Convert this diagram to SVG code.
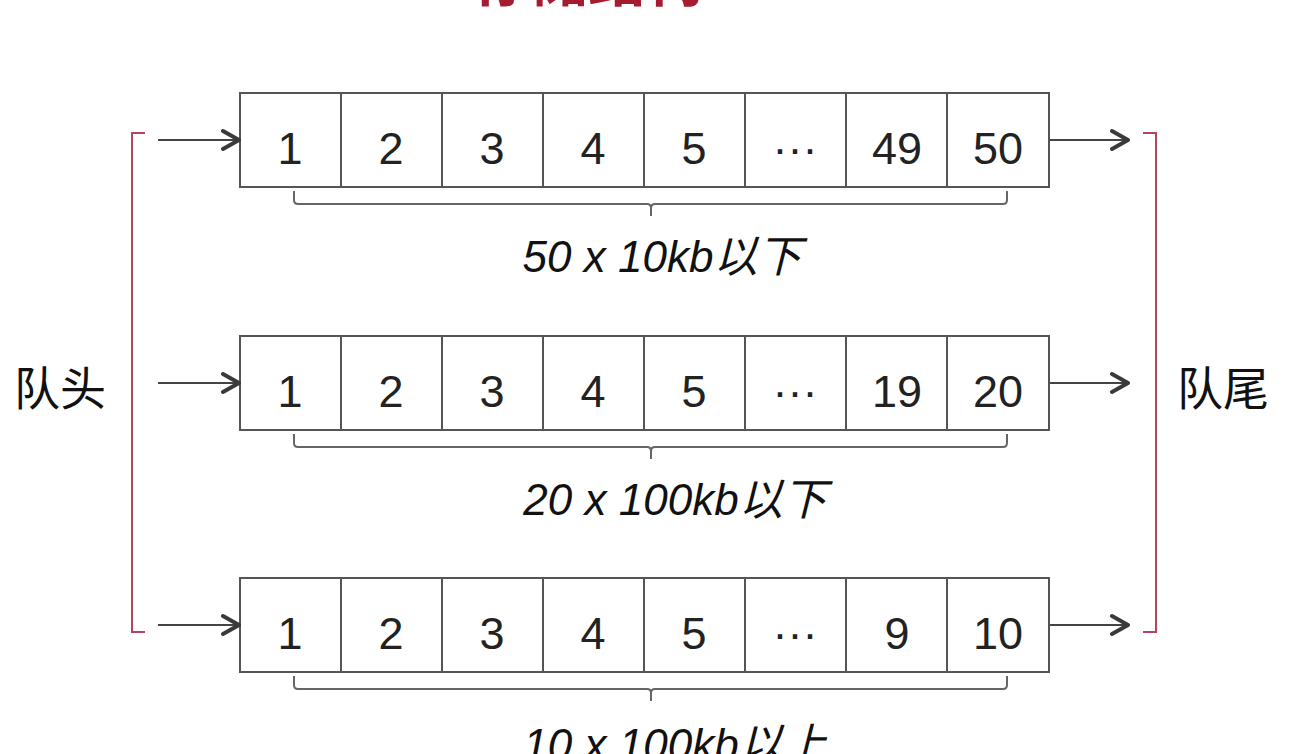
<svg xmlns="http://www.w3.org/2000/svg" width="1300" height="754" viewBox="0 0 1300 754">
<defs>
<marker id="arrB" viewBox="0 0 24 24" refX="22" refY="12" markerWidth="24" markerHeight="24" markerUnits="userSpaceOnUse" orient="auto">
<path d="M6,3 L22,12 L6,21" fill="none" stroke="#3a3a3a" stroke-width="4" stroke-linecap="round" stroke-linejoin="round"/>
</marker>
</defs>
<style>
.cell{fill:#fff;stroke:#555;stroke-width:2}
.num{font-family:"Liberation Sans",Arial,sans-serif;font-size:45px;fill:#222;text-anchor:middle}
.lbl{font-family:"Liberation Sans","Noto Sans CJK SC",sans-serif;font-size:44px;font-style:italic;fill:#111;text-anchor:middle}
.side{font-family:"Noto Sans CJK SC",sans-serif;font-size:46px;fill:#111}
.brace{fill:none;stroke:#666;stroke-width:2}
.conn{fill:none;stroke:#444;stroke-width:2;marker-end:url(#arrB)}
.red{fill:none;stroke:#b5455e;stroke-width:2}
.title{font-family:"Noto Sans CJK SC",sans-serif;font-weight:bold;font-size:58px;fill:#a51c30}
</style>
<rect width="1300" height="754" fill="#fff"/>
<text class="title" x="472" y="1">存储结构</text>

<g id="row1">
<rect class="cell" x="240" y="93" width="101" height="94"/>
<rect class="cell" x="341" y="93" width="101" height="94"/>
<rect class="cell" x="442" y="93" width="101" height="94"/>
<rect class="cell" x="543" y="93" width="101" height="94"/>
<rect class="cell" x="644" y="93" width="101" height="94"/>
<rect class="cell" x="745" y="93" width="101" height="94"/>
<rect class="cell" x="846" y="93" width="101" height="94"/>
<rect class="cell" x="947" y="93" width="102" height="94"/>
<text class="num" x="290" y="164">1</text>
<text class="num" x="391" y="164">2</text>
<text class="num" x="492" y="164">3</text>
<text class="num" x="593" y="164">4</text>
<text class="num" x="694" y="164">5</text>
<text class="num" x="795" y="164">···</text>
<text class="num" x="897" y="164">49</text>
<text class="num" x="998" y="164">50</text>
<path class="brace" d="M294,191 V200 Q294,204 298,204 H647 Q651,204 651,208 V216 M651,208 Q651,204 655,204 H1003 Q1007,204 1007,200 V191"/>
<text class="lbl" x="662" y="272">50 x 10kb以下</text>
</g>

<g id="row2">
<rect class="cell" x="240" y="336" width="101" height="94"/>
<rect class="cell" x="341" y="336" width="101" height="94"/>
<rect class="cell" x="442" y="336" width="101" height="94"/>
<rect class="cell" x="543" y="336" width="101" height="94"/>
<rect class="cell" x="644" y="336" width="101" height="94"/>
<rect class="cell" x="745" y="336" width="101" height="94"/>
<rect class="cell" x="846" y="336" width="101" height="94"/>
<rect class="cell" x="947" y="336" width="102" height="94"/>
<text class="num" x="290" y="407">1</text>
<text class="num" x="391" y="407">2</text>
<text class="num" x="492" y="407">3</text>
<text class="num" x="593" y="407">4</text>
<text class="num" x="694" y="407">5</text>
<text class="num" x="795" y="407">···</text>
<text class="num" x="897" y="407">19</text>
<text class="num" x="998" y="407">20</text>
<path class="brace" d="M294,434 V443 Q294,447 298,447 H647 Q651,447 651,451 V459 M651,451 Q651,447 655,447 H1003 Q1007,447 1007,443 V434"/>
<text class="lbl" x="675" y="515">20 x 100kb以下</text>
</g>

<g id="row3">
<rect class="cell" x="240" y="578" width="101" height="94"/>
<rect class="cell" x="341" y="578" width="101" height="94"/>
<rect class="cell" x="442" y="578" width="101" height="94"/>
<rect class="cell" x="543" y="578" width="101" height="94"/>
<rect class="cell" x="644" y="578" width="101" height="94"/>
<rect class="cell" x="745" y="578" width="101" height="94"/>
<rect class="cell" x="846" y="578" width="101" height="94"/>
<rect class="cell" x="947" y="578" width="102" height="94"/>
<text class="num" x="290" y="649">1</text>
<text class="num" x="391" y="649">2</text>
<text class="num" x="492" y="649">3</text>
<text class="num" x="593" y="649">4</text>
<text class="num" x="694" y="649">5</text>
<text class="num" x="795" y="649">···</text>
<text class="num" x="897" y="649">9</text>
<text class="num" x="998" y="649">10</text>
<path class="brace" d="M294,676 V685 Q294,689 298,689 H647 Q651,689 651,693 V701 M651,693 Q651,689 655,689 H1003 Q1007,689 1007,685 V676"/>
<text class="lbl" x="675" y="760">10 x 100kb以上</text>
</g>

<g id="head">
<path class="red" d="M145,133 H132 V632 H145"/>
<text class="side" x="14" y="405">队头</text>
</g>
<g id="tail">
<path class="red" d="M1143,133 H1156 V632 H1143"/>
<text class="side" x="1177" y="405">队尾</text>
</g>

<g id="connectors">
<line class="conn" x1="158" y1="140" x2="239" y2="140"/>
<line class="conn" x1="158" y1="383" x2="239" y2="383"/>
<line class="conn" x1="158" y1="625" x2="239" y2="625"/>
<line class="conn" x1="1050" y1="140" x2="1128" y2="140"/>
<line class="conn" x1="1050" y1="383" x2="1128" y2="383"/>
<line class="conn" x1="1050" y1="625" x2="1128" y2="625"/>
</g>
</svg>
